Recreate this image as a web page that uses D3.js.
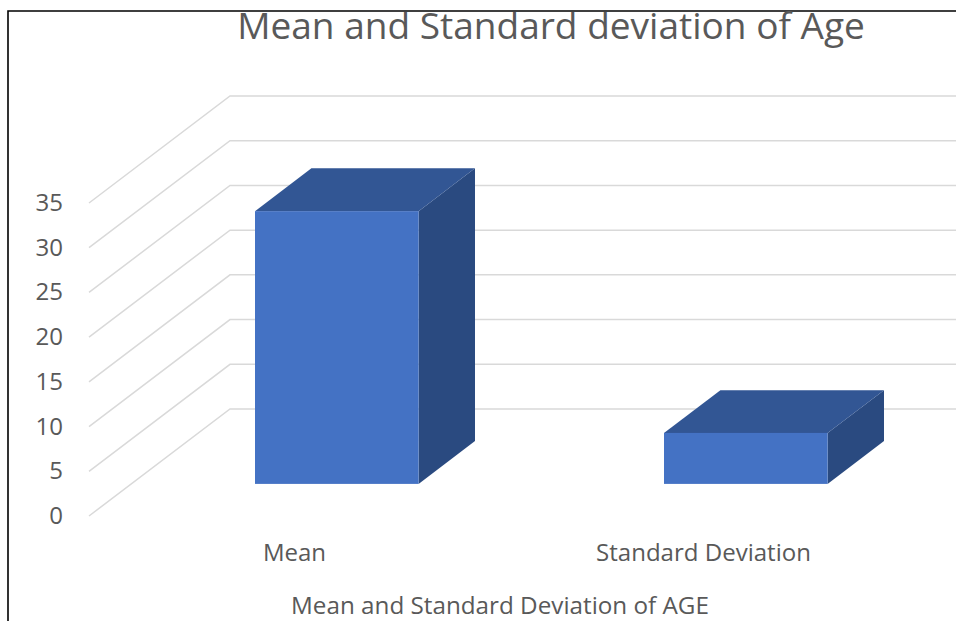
<!DOCTYPE html>
<html><head><meta charset="utf-8">
<script src="https://cdn.jsdelivr.net/npm/d3@7"></script>
<style>html,body{margin:0;padding:0;background:#fff;overflow:hidden}</style>
</head><body>
<svg id="c" width="956" height="621"></svg>
<script>
const categories = ["Mean", "Standard Deviation"];
const values = [30.5, 5.7];
const tickValues = [0, 5, 10, 15, 20, 25, 30, 35];
const titleText = "Mean and Standard deviation of Age";
const axisTitleText = "Mean and Standard Deviation of AGE";

const W = 956, H = 621;
const svg = d3.select("#c");
const FONT = "'Open Sans', 'Segoe UI', sans-serif";
const TXT = "#595959";

// oblique depth vector for the full floor depth
const DX = 141, DY = -107;
const d1 = 0.3, dd = 0.4;     // bar depth start and extent
const barFrac = 0.4;

const y = d3.scaleLinear().domain([0, 35]).range([516, 203]);
const x = d3.scaleBand().domain(categories).range([90, 908]).padding(0);

// border
svg.append("path").attr("d", `M8,${H} L8,11 L${W},11`)
  .attr("fill", "none").attr("stroke", "#000").attr("stroke-width", 1.6);

// gridlines (left wall diagonal + back wall horizontal)
const gx0 = 89;
svg.append("g").selectAll("path").data(tickValues).join("path")
  .attr("d", v => `M${gx0},${y(v)} L${gx0 + DX},${y(v) + DY} L${W},${y(v) + DY}`)
  .attr("fill", "none").attr("stroke", "#d9d9d9").attr("stroke-width", 1.5);

// bars
const bw = x.bandwidth() * barFrac;
const bars = svg.append("g").selectAll("g").data(categories.map((c, i) => ({c, v: values[i]}))).join("g");
function geo(d) {
  const bx = x(d.c) + x.bandwidth() / 2 - bw / 2 + d1 * DX;
  const bottom = y(0) + d1 * DY;
  const top = y(d.v) + d1 * DY;
  return {bx, bottom, top, ox: dd * DX, oy: dd * DY};
}
bars.append("polygon").attr("fill", "#2a4a80")
  .attr("points", d => { const g = geo(d); return [[g.bx + bw, g.top], [g.bx + bw + g.ox, g.top + g.oy], [g.bx + bw + g.ox, g.bottom + g.oy], [g.bx + bw, g.bottom]].join(" "); });
bars.append("polygon").attr("fill", "#325694")
  .attr("points", d => { const g = geo(d); return [[g.bx, g.top], [g.bx + bw, g.top], [g.bx + bw + g.ox, g.top + g.oy], [g.bx + g.ox, g.top + g.oy]].join(" "); });
bars.append("rect").attr("fill", "#4472c4")
  .attr("x", d => geo(d).bx).attr("y", d => geo(d).top)
  .attr("width", bw).attr("height", d => geo(d).bottom - geo(d).top);

function fit(sel, target, size) {
  sel.attr("font-size", size);
  const w = sel.node().getComputedTextLength();
  sel.attr("font-size", size * target / w);
  return size * target / w;
}

// tick labels
const probe = svg.append("text").attr("font-family", FONT).text("Standard Deviation");
const labSize = fit(probe, 215, 20);
probe.remove();

svg.append("g").selectAll("text").data(tickValues).join("text")
  .attr("x", 63).attr("y", v => y(v) + 8)
  .attr("text-anchor", "end").attr("font-family", FONT).attr("font-size", labSize)
  .attr("fill", TXT).text(v => v);

// category labels
svg.append("g").selectAll("text").data(categories).join("text")
  .attr("x", c => x(c) + x.bandwidth() / 2).attr("y", 561)
  .attr("text-anchor", "middle").attr("font-family", FONT).attr("font-size", labSize)
  .attr("fill", TXT).text(c => c);

// title
const t = svg.append("text").attr("x", 551).attr("y", 39).attr("text-anchor", "middle")
  .attr("font-family", FONT).attr("fill", TXT).text(titleText);
fit(t, 628, 30);

// axis title
const at = svg.append("text").attr("x", 500).attr("y", 614).attr("text-anchor", "middle")
  .attr("font-family", FONT).attr("fill", TXT).text(axisTitleText);
fit(at, 418, 20);
</script>
</body></html>
